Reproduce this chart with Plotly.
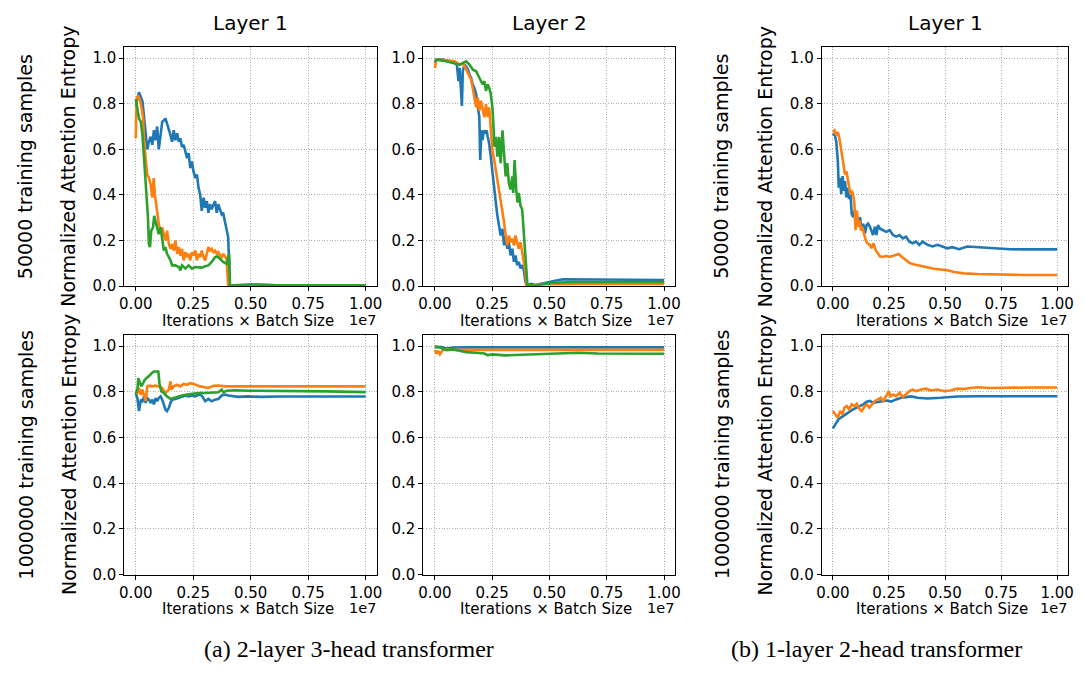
import plotly.graph_objects as go

W, H = 1085, 675
BLUE, ORANGE, GREEN = "#1f77b4", "#ff7f0e", "#2ca02c"

# ---------------- data (x in units of 1e7 iterations x batch size) ----------------
# Row 1 (50000 training samples), 2-layer 3-head, Layer 1
r1c1_blue_x = [0.0, 0.014, 0.029, 0.036, 0.043, 0.05, 0.057, 0.065, 0.072, 0.079, 0.086, 0.093, 0.10, 0.108,
               0.115, 0.122, 0.129, 0.136, 0.144, 0.151, 0.158, 0.165, 0.172, 0.18, 0.187, 0.194, 0.201, 0.208,
               0.216, 0.223, 0.23, 0.237, 0.244, 0.251, 0.259, 0.266, 0.273, 0.28, 0.287, 0.295, 0.302, 0.309,
               0.316, 0.323, 0.33, 0.338, 0.345, 0.352, 0.359, 0.366, 0.374, 0.38, 0.388, 0.395, 0.402, 0.405,
               0.409, 0.43, 0.6, 0.8, 1.0]
r1c1_blue_y = [0.79, 0.85, 0.81, 0.735, 0.648, 0.60, 0.633, 0.655, 0.62, 0.684, 0.64, 0.70, 0.60, 0.677,
               0.72, 0.727, 0.735, 0.713, 0.69, 0.662, 0.633, 0.684, 0.64, 0.67, 0.633, 0.648, 0.61, 0.62,
               0.59, 0.561, 0.583, 0.518, 0.547, 0.503, 0.474, 0.489, 0.431, 0.402, 0.33, 0.388, 0.344, 0.373,
               0.322, 0.359, 0.337, 0.359, 0.373, 0.322, 0.359, 0.337, 0.315, 0.322, 0.286, 0.243, 0.214, 0.127,
               0.0, 0.004, 0.003, 0.003, 0.003]
r1c1_orange_x = [0.0, 0.003, 0.01, 0.017, 0.026, 0.032, 0.037, 0.043, 0.05, 0.057, 0.065, 0.072, 0.078, 0.083,
                 0.089, 0.095, 0.10, 0.108, 0.115, 0.122, 0.129, 0.136, 0.144, 0.151, 0.158, 0.165, 0.172, 0.18,
                 0.187, 0.194, 0.201, 0.208, 0.216, 0.223, 0.23, 0.237, 0.244, 0.251, 0.259, 0.266, 0.273, 0.28,
                 0.287, 0.295, 0.302, 0.309, 0.316, 0.323, 0.33, 0.338, 0.345, 0.352, 0.359, 0.366, 0.374, 0.38,
                 0.388, 0.395, 0.402, 0.5, 1.0]
r1c1_orange_y = [0.648, 0.82, 0.836, 0.82, 0.778, 0.735, 0.62, 0.56, 0.489, 0.474, 0.445, 0.388, 0.474, 0.402,
                 0.359, 0.315, 0.272, 0.243, 0.257, 0.228, 0.20, 0.243, 0.185, 0.163, 0.185, 0.156, 0.20, 0.142,
                 0.171, 0.134, 0.163, 0.113, 0.149, 0.127, 0.142, 0.113, 0.149, 0.134, 0.156, 0.113, 0.142, 0.127,
                 0.156, 0.127, 0.113, 0.142, 0.171, 0.156, 0.163, 0.149, 0.156, 0.142, 0.149, 0.134, 0.127, 0.142,
                 0.127, 0.12, 0.0, 0.001, 0.001]
r1c1_green_x = [0.0, 0.007, 0.014, 0.022, 0.029, 0.036, 0.043, 0.049, 0.053, 0.057, 0.062, 0.067, 0.075, 0.08,
                0.086, 0.093, 0.10, 0.108, 0.115, 0.122, 0.129, 0.136, 0.144, 0.151, 0.158, 0.172, 0.187, 0.194,
                0.201, 0.216, 0.23, 0.244, 0.259, 0.273, 0.287, 0.302, 0.316, 0.33, 0.345, 0.356, 0.366, 0.38,
                0.395, 0.402, 0.406, 0.41, 0.43, 0.5, 0.6, 0.8, 1.0]
r1c1_green_y = [0.82, 0.778, 0.735, 0.72, 0.662, 0.56, 0.445, 0.373, 0.30, 0.185, 0.171, 0.243, 0.257, 0.308,
                0.286, 0.257, 0.228, 0.257, 0.214, 0.156, 0.171, 0.142, 0.127, 0.113, 0.091, 0.091, 0.084, 0.069,
                0.091, 0.077, 0.091, 0.077, 0.084, 0.084, 0.081, 0.087, 0.091, 0.106, 0.127, 0.13, 0.12, 0.106,
                0.098, 0.127, 0.142, 0.0, 0.004, 0.008, 0.005, 0.004, 0.004]

# Row 1, Layer 2
r1c2_blue_x = [0.0, 0.007, 0.036, 0.065, 0.086, 0.096, 0.103, 0.108, 0.114, 0.118, 0.122, 0.129, 0.136, 0.144,
               0.151, 0.158, 0.165, 0.172, 0.18, 0.187, 0.194, 0.198, 0.203, 0.208, 0.214, 0.22, 0.226, 0.231,
               0.237, 0.244, 0.251, 0.259, 0.266, 0.273, 0.28, 0.287, 0.295, 0.302, 0.309, 0.316, 0.323, 0.33,
               0.338, 0.345, 0.352, 0.359, 0.366, 0.374, 0.381, 0.388, 0.395, 0.40, 0.42, 0.44, 0.47, 0.50,
               0.53, 0.56, 0.60, 0.70, 0.80, 1.0]
r1c2_blue_y = [0.978, 0.993, 0.993, 0.986, 0.978, 0.971, 0.899, 0.957, 0.87, 0.79, 0.942, 0.971, 0.964, 0.95,
               0.928, 0.914, 0.885, 0.87, 0.842, 0.798, 0.741, 0.553, 0.683, 0.64, 0.683, 0.669, 0.683, 0.654,
               0.625, 0.568, 0.496, 0.424, 0.366, 0.308, 0.265, 0.222, 0.251, 0.179, 0.222, 0.164, 0.193, 0.135,
               0.164, 0.107, 0.135, 0.092, 0.107, 0.078, 0.092, 0.071, 0.02, 0.003, 0.01, 0.005, 0.012, 0.02,
               0.025, 0.03, 0.03, 0.028, 0.027, 0.027]
r1c2_orange_x = [0.0, 0.007, 0.05, 0.086, 0.108, 0.122, 0.133, 0.144, 0.151, 0.158, 0.165, 0.172, 0.18, 0.187,
                 0.194, 0.201, 0.208, 0.216, 0.223, 0.23, 0.237, 0.244, 0.251, 0.259, 0.266, 0.273, 0.28, 0.287,
                 0.295, 0.302, 0.309, 0.316, 0.323, 0.33, 0.338, 0.345, 0.352, 0.359, 0.366, 0.374, 0.381, 0.388,
                 0.395, 0.40, 0.44, 0.46, 0.50, 0.60, 1.0]
r1c2_orange_y = [0.957, 0.993, 0.99, 0.986, 0.971, 0.978, 0.957, 0.935, 0.921, 0.906, 0.87, 0.827, 0.784, 0.827,
                 0.769, 0.813, 0.777, 0.741, 0.798, 0.741, 0.784, 0.697, 0.597, 0.553, 0.51, 0.452, 0.424, 0.366,
                 0.323, 0.28, 0.222, 0.179, 0.222, 0.193, 0.207, 0.179, 0.222, 0.193, 0.164, 0.193, 0.15, 0.121,
                 0.063, 0.003, 0.003, 0.01, 0.008, 0.01, 0.01]
r1c2_green_x = [0.0, 0.007, 0.05, 0.079, 0.108, 0.122, 0.136, 0.151, 0.165, 0.18, 0.194, 0.208, 0.216, 0.223,
                0.23, 0.237, 0.244, 0.251, 0.256, 0.26, 0.266, 0.273, 0.28, 0.287, 0.295, 0.302, 0.309, 0.316,
                0.323, 0.33, 0.338, 0.342, 0.348, 0.355, 0.361, 0.366, 0.374, 0.381, 0.388, 0.395, 0.40, 0.404,
                0.44, 0.48, 0.52, 0.60, 1.0]
r1c2_green_y = [0.986, 0.993, 0.986, 0.978, 0.971, 0.978, 0.986, 0.971, 0.95, 0.942, 0.914, 0.885, 0.899, 0.856,
                0.885, 0.87, 0.842, 0.784, 0.697, 0.611, 0.654, 0.568, 0.654, 0.539, 0.683, 0.553, 0.481, 0.539,
                0.452, 0.424, 0.481, 0.409, 0.553, 0.424, 0.366, 0.409, 0.352, 0.337, 0.236, 0.135, 0.02, 0.003,
                0.004, 0.008, 0.015, 0.018, 0.018]

# Row 1, 1-layer 2-head, Layer 1
r1c3_blue_x = [0.0, 0.007, 0.015, 0.022, 0.026, 0.032, 0.037, 0.043, 0.049, 0.054, 0.06, 0.066, 0.072, 0.078,
               0.084, 0.09, 0.096, 0.101, 0.107, 0.113, 0.121, 0.128, 0.135, 0.143, 0.15, 0.157, 0.165, 0.172,
               0.179, 0.187, 0.194, 0.201, 0.209, 0.224, 0.238, 0.253, 0.268, 0.282, 0.297, 0.312, 0.326, 0.341,
               0.356, 0.371, 0.385, 0.40, 0.422, 0.444, 0.466, 0.488, 0.51, 0.532, 0.562, 0.599, 0.643, 0.687,
               0.731, 0.79, 0.849, 0.922, 1.0]
r1c3_blue_y = [0.661, 0.669, 0.633, 0.547, 0.432, 0.475, 0.403, 0.482, 0.418, 0.46, 0.389, 0.432, 0.382, 0.403,
               0.317, 0.303, 0.331, 0.274, 0.288, 0.26, 0.303, 0.245, 0.274, 0.231, 0.267, 0.274, 0.26, 0.245,
               0.224, 0.26, 0.224, 0.267, 0.253, 0.245, 0.238, 0.245, 0.224, 0.217, 0.224, 0.209, 0.217, 0.195,
               0.188, 0.195, 0.181, 0.195, 0.181, 0.174, 0.181, 0.174, 0.166, 0.171, 0.162, 0.174, 0.171, 0.169,
               0.165, 0.162, 0.161, 0.161, 0.161]
r1c3_orange_x = [0.0, 0.007, 0.015, 0.022, 0.029, 0.037, 0.043, 0.049, 0.054, 0.06, 0.066, 0.072, 0.078, 0.084,
                 0.09, 0.096, 0.101, 0.107, 0.113, 0.119, 0.125, 0.131, 0.138, 0.146, 0.154, 0.165, 0.172, 0.181,
                 0.19, 0.199, 0.209, 0.224, 0.238, 0.253, 0.268, 0.282, 0.293, 0.304, 0.319, 0.341, 0.363, 0.393,
                 0.422, 0.451, 0.481, 0.51, 0.54, 0.584, 0.643, 0.731, 0.849, 1.0]
r1c3_orange_y = [0.676, 0.683, 0.661, 0.676, 0.647, 0.59, 0.547, 0.518, 0.489, 0.504, 0.475, 0.432, 0.403, 0.418,
                 0.403, 0.36, 0.245, 0.331, 0.26, 0.288, 0.245, 0.26, 0.231, 0.202, 0.188, 0.181, 0.166, 0.188,
                 0.159, 0.145, 0.131, 0.128, 0.133, 0.128, 0.133, 0.138, 0.141, 0.131, 0.119, 0.102, 0.095, 0.088,
                 0.08, 0.076, 0.073, 0.07, 0.062, 0.056, 0.053, 0.05, 0.049, 0.049]

# Row 2 (1000000 training samples), 2-layer 3-head, Layer 1
r2c1_blue_x = [0.0, 0.007, 0.014, 0.022, 0.029, 0.036, 0.043, 0.05, 0.057, 0.065, 0.072, 0.079, 0.086, 0.093,
               0.10, 0.108, 0.115, 0.122, 0.129, 0.136, 0.144, 0.151, 0.158, 0.172, 0.187, 0.201, 0.216, 0.23,
               0.244, 0.259, 0.273, 0.287, 0.302, 0.316, 0.33, 0.345, 0.359, 0.374, 0.388, 0.402, 0.445, 0.489,
               0.546, 0.618, 0.69, 0.833, 1.0]
r2c1_blue_y = [0.795, 0.773, 0.716, 0.766, 0.759, 0.78, 0.752, 0.773, 0.766, 0.752, 0.766, 0.745, 0.773, 0.759,
               0.773, 0.78, 0.766, 0.745, 0.723, 0.716, 0.73, 0.752, 0.766, 0.769, 0.773, 0.778, 0.784, 0.78,
               0.784, 0.78, 0.788, 0.784, 0.759, 0.769, 0.759, 0.766, 0.769, 0.784, 0.788, 0.784, 0.778, 0.78,
               0.778, 0.78, 0.78, 0.78, 0.78]
r2c1_orange_x = [0.0, 0.007, 0.014, 0.022, 0.029, 0.036, 0.043, 0.05, 0.057, 0.072, 0.086, 0.10, 0.115, 0.129,
                 0.144, 0.151, 0.155, 0.165, 0.18, 0.194, 0.208, 0.223, 0.237, 0.251, 0.266, 0.28, 0.295, 0.316,
                 0.338, 0.359, 0.388, 0.431, 0.489, 0.575, 0.661, 0.776, 1.0]
r2c1_orange_y = [0.802, 0.795, 0.817, 0.788, 0.81, 0.78, 0.76, 0.824, 0.827, 0.824, 0.827, 0.824, 0.817, 0.795,
                 0.81, 0.846, 0.81, 0.824, 0.831, 0.824, 0.835, 0.831, 0.838, 0.834, 0.827, 0.824, 0.821, 0.817,
                 0.827, 0.828, 0.824, 0.824, 0.823, 0.821, 0.824, 0.824, 0.824]
r2c1_green_x = [0.0, 0.007, 0.011, 0.017, 0.024, 0.032, 0.039, 0.046, 0.055, 0.062, 0.069, 0.079, 0.089, 0.098,
                0.103, 0.111, 0.122, 0.136, 0.151, 0.165, 0.18, 0.201, 0.223, 0.244, 0.273, 0.302, 0.33, 0.359,
                0.374, 0.381, 0.395, 0.431, 0.489, 0.575, 0.69, 0.833, 1.0]
r2c1_green_y = [0.795, 0.81, 0.86, 0.838, 0.824, 0.838, 0.853, 0.86, 0.867, 0.874, 0.882, 0.889, 0.889, 0.889,
                0.838, 0.802, 0.795, 0.78, 0.769, 0.773, 0.78, 0.784, 0.788, 0.792, 0.795, 0.795, 0.795, 0.798,
                0.81, 0.798, 0.805, 0.807, 0.805, 0.805, 0.804, 0.802, 0.799]

# Row 2, Layer 2
r2c2_blue_x = [0.0, 0.03, 0.05, 0.08, 0.15, 0.3, 0.5, 0.75, 1.0]
r2c2_blue_y = [0.997, 0.996, 0.99, 0.994, 0.995, 0.995, 0.995, 0.995, 0.995]
r2c2_orange_x = [0.0, 0.007, 0.014, 0.022, 0.029, 0.036, 0.05, 0.1, 0.2, 0.4, 0.6, 0.8, 1.0]
r2c2_orange_y = [0.983, 0.968, 0.98, 0.965, 0.975, 0.983, 0.986, 0.984, 0.984, 0.984, 0.984, 0.984, 0.984]
r2c2_green_x = [0.0, 0.022, 0.05, 0.079, 0.108, 0.136, 0.18, 0.216, 0.23, 0.251, 0.309, 0.366, 0.424, 0.539,
                0.625, 0.711, 0.862, 1.0]
r2c2_green_y = [0.997, 0.994, 0.983, 0.986, 0.98, 0.974, 0.971, 0.968, 0.961, 0.964, 0.96, 0.962, 0.965, 0.967,
                0.971, 0.968, 0.967, 0.967]

# Row 2, 1-layer 2-head, Layer 1
r2c3_blue_x = [0.0, 0.01, 0.025, 0.047, 0.069, 0.091, 0.113, 0.135, 0.15, 0.165, 0.179, 0.201, 0.224, 0.246,
               0.26, 0.282, 0.304, 0.326, 0.349, 0.378, 0.422, 0.481, 0.554, 0.643, 0.775, 1.0]
r2c3_blue_y = [0.64, 0.655, 0.68, 0.695, 0.709, 0.724, 0.734, 0.745, 0.757, 0.76, 0.752, 0.757, 0.76, 0.762,
               0.757, 0.767, 0.774, 0.777, 0.78, 0.774, 0.771, 0.774, 0.78, 0.781, 0.781, 0.781]
r2c3_orange_x = [0.0, 0.01, 0.022, 0.032, 0.043, 0.051, 0.062, 0.072, 0.084, 0.096, 0.107, 0.119, 0.128, 0.14,
                 0.151, 0.163, 0.175, 0.187, 0.201, 0.213, 0.225, 0.238, 0.25, 0.256, 0.268, 0.282, 0.297, 0.312,
                 0.326, 0.341, 0.356, 0.371, 0.393, 0.415, 0.437, 0.466, 0.496, 0.525, 0.554, 0.584, 0.613, 0.643,
                 0.701, 0.79, 0.878, 1.0]
r2c3_orange_y = [0.716, 0.702, 0.687, 0.716, 0.702, 0.731, 0.738, 0.724, 0.745, 0.738, 0.748, 0.724, 0.716, 0.734,
                 0.745, 0.731, 0.745, 0.76, 0.767, 0.774, 0.76, 0.781, 0.803, 0.781, 0.788, 0.781, 0.796, 0.777,
                 0.788, 0.803, 0.81, 0.803, 0.81, 0.814, 0.806, 0.81, 0.803, 0.806, 0.814, 0.812, 0.817, 0.82,
                 0.817, 0.819, 0.819, 0.819]

col_titles = ["Layer 1", "Layer 2", "Layer 1"]
row_labels = ["50000 training samples", "1000000 training samples"]
x_title = "Iterations × Batch Size"
y_title = "Normalized Attention Entropy"
x_ticks = [0.0, 0.25, 0.5, 0.75, 1.0]
y_ticks = [0.0, 0.2, 0.4, 0.6, 0.8, 1.0]
captions = ["(a) 2-layer 3-head transformer", "(b) 1-layer 2-head transformer"]

panels = [
    (0, 0, [(r1c1_blue_x, r1c1_blue_y, BLUE), (r1c1_orange_x, r1c1_orange_y, ORANGE), (r1c1_green_x, r1c1_green_y, GREEN)]),
    (0, 1, [(r1c2_blue_x, r1c2_blue_y, BLUE), (r1c2_orange_x, r1c2_orange_y, ORANGE), (r1c2_green_x, r1c2_green_y, GREEN)]),
    (0, 2, [(r1c3_blue_x, r1c3_blue_y, BLUE), (r1c3_orange_x, r1c3_orange_y, ORANGE)]),
    (1, 0, [(r2c1_blue_x, r2c1_blue_y, BLUE), (r2c1_orange_x, r2c1_orange_y, ORANGE), (r2c1_green_x, r2c1_green_y, GREEN)]),
    (1, 1, [(r2c2_blue_x, r2c2_blue_y, BLUE), (r2c2_orange_x, r2c2_orange_y, ORANGE), (r2c2_green_x, r2c2_green_y, GREEN)]),
    (1, 2, [(r2c3_blue_x, r2c3_blue_y, BLUE), (r2c3_orange_x, r2c3_orange_y, ORANGE)]),
]

# ---------------- layout geometry (pixels) ----------------
xdom_px = [(120.4, 375.6), (422.3, 676.7), (824.3, 1073.3)]
ydom_px = [(47.3, 290.0), (339.3, 582.3)]

FONT = "DejaVu Sans"
fig = go.Figure()
layout = dict(
    width=W, height=H, margin=dict(l=0, r=0, t=0, b=0),
    paper_bgcolor="white", plot_bgcolor="white", showlegend=False,
    font=dict(family=FONT, color="black", size=15),
)
annotations = []

for k, (r, c, series) in enumerate(panels, start=1):
    xs = "" if k == 1 else str(k)
    for xv, yv, col in series:
        fig.add_trace(go.Scatter(x=xv, y=yv, mode="lines", line=dict(color=col, width=2.6),
                                 xaxis="x" + xs, yaxis="y" + xs, hoverinfo="skip"))
    x0, x1 = xdom_px[c]
    y0, y1 = ydom_px[r]
    common = dict(showline=True, mirror=True, linecolor="black", linewidth=1,
                  showgrid=True, gridcolor="#b0b0b0", griddash="1px,1.6px", gridwidth=1,
                  zeroline=False, ticks="outside", ticklen=4, tickcolor="black", tickwidth=1,
                  tickfont=dict(family=FONT, size=15, color="black"))
    layout["xaxis" + xs] = dict(domain=[x0 / W, x1 / W], anchor="y" + xs, range=[-0.05, 1.05],
                                tickvals=x_ticks, tickformat=".2f", **common)
    layout["yaxis" + xs] = dict(domain=[(H - y1) / H, (H - y0) / H], anchor="x" + xs, range=[0, 1.05],
                                tickvals=y_ticks, tickformat=".1f", **common)

    cx = (x0 + x1) / 2
    # x-axis title and offset text
    annotations.append(dict(text=x_title, x=(cx - 3) / W, y=(H - (y1 + 35)) / H, xref="paper", yref="paper",
                            xanchor="center", yanchor="middle", showarrow=False,
                            font=dict(family=FONT, size=15, color="black")))
    annotations.append(dict(text="1e7", x=(x1 + 1) / W, y=(H - (y1 + 34)) / H, xref="paper", yref="paper",
                            xanchor="right", yanchor="middle", showarrow=False,
                            font=dict(family=FONT, size=14.5, color="black")))
    if r == 0:
        annotations.append(dict(text=col_titles[c], x=cx / W, y=(H - 23) / H, xref="paper", yref="paper",
                                xanchor="center", yanchor="middle", showarrow=False,
                                font=dict(family=FONT, size=20, color="black")))
    if c in (0, 2):
        cy = (y0 + y1) / 2
        yt_x = 64 if c == 0 else 767
        rl_x = 21 if c == 0 else 723
        annotations.append(dict(text=y_title, x=yt_x / W, y=(H - cy) / H, xref="paper", yref="paper",
                                xanchor="center", yanchor="middle", textangle=-90, showarrow=False,
                                font=dict(family=FONT, size=19, color="black")))
        annotations.append(dict(text=row_labels[r], x=rl_x / W, y=(H - cy) / H, xref="paper", yref="paper",
                                xanchor="center", yanchor="middle", textangle=-90, showarrow=False,
                                font=dict(family=FONT, size=19, color="black")))

for cap, capx in zip(captions, [347, 880]):
    annotations.append(dict(text=cap, x=capx / W, y=(H - 658) / H, xref="paper", yref="paper",
                            xanchor="center", yanchor="middle", showarrow=False,
                            font=dict(family="Liberation Serif", size=24, color="black")))

layout["annotations"] = annotations
fig.update_layout(**layout)
fig.write_html("out.html")
